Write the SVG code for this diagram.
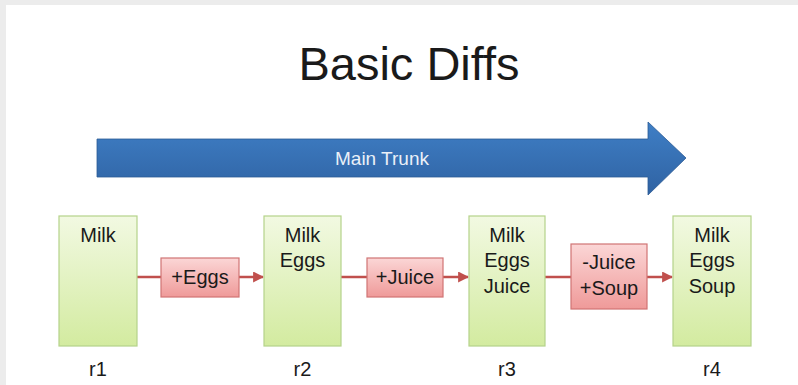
<svg xmlns="http://www.w3.org/2000/svg" width="798" height="385" viewBox="0 0 798 385">
<defs>
<linearGradient id="gGreen" x1="0" y1="0" x2="0" y2="1">
<stop offset="0" stop-color="#f2f9e2"/>
<stop offset="1" stop-color="#d3eba0"/>
</linearGradient>
<linearGradient id="gPink" x1="0" y1="0" x2="0" y2="1">
<stop offset="0" stop-color="#fbd6d6"/>
<stop offset="1" stop-color="#ef9a99"/>
</linearGradient>
<linearGradient id="gBlue" x1="0" y1="0" x2="0" y2="1">
<stop offset="0" stop-color="#3f7fc6"/>
<stop offset="1" stop-color="#2f62a2"/>
</linearGradient>
<marker id="ah" viewBox="0 0 10 10" refX="9" refY="5" markerWidth="4.4" markerHeight="4.4" orient="auto" markerUnits="strokeWidth">
<path d="M0,0 L10,5 L0,10 z" fill="#c0504d"/>
</marker>
<style>
.t{font-family:"Liberation Sans",Arial,sans-serif;fill:#1a1a1a;text-anchor:middle}
.lbl{font-size:20px}
.rev{fill:url(#gGreen);stroke:#b5d38a;stroke-width:1.2}
.chg{fill:url(#gPink);stroke:#d07474;stroke-width:1.2}
.con{stroke:#c0504d;stroke-width:2.5;fill:none}
</style>
</defs>
<rect x="0" y="0" width="798" height="385" fill="#ececec"/>
<rect x="6" y="5" width="792" height="380" fill="#ffffff"/>
<text class="t" x="409" y="80" font-size="47">Basic Diffs</text>
<g id="trunk">
<path d="M97,139 L648,139 L648,122 L686,158 L648,195 L648,177 L97,177 Z" fill="url(#gBlue)" stroke="#2c5a94" stroke-width="0.8"/>
<text x="382" y="165" font-family="Liberation Sans,Arial,sans-serif" font-size="19" fill="#eaf0f8" text-anchor="middle">Main Trunk</text>
</g>
<g id="connectors">
<line class="con" x1="137" y1="277" x2="161" y2="277"/>
<line class="con" x1="239" y1="277" x2="263" y2="277" marker-end="url(#ah)"/>
<line class="con" x1="341" y1="277" x2="367" y2="277"/>
<line class="con" x1="443" y1="277" x2="468" y2="277" marker-end="url(#ah)"/>
<line class="con" x1="545" y1="277" x2="571" y2="277"/>
<line class="con" x1="647" y1="277" x2="672" y2="277" marker-end="url(#ah)"/>
</g>
<g id="r1">
<rect class="rev" x="59" y="216" width="78" height="130"/>
<text class="t lbl" x="98" y="242">Milk</text>
<text class="t lbl" x="98" y="376">r1</text>
</g>
<g id="r2">
<rect class="rev" x="264" y="216" width="77" height="130"/>
<text class="t lbl" x="302.5" y="242">Milk</text>
<text class="t lbl" x="302.5" y="267">Eggs</text>
<text class="t lbl" x="302.5" y="376">r2</text>
</g>
<g id="r3">
<rect class="rev" x="469" y="216" width="76" height="130"/>
<text class="t lbl" x="507" y="242">Milk</text>
<text class="t lbl" x="507" y="267">Eggs</text>
<text class="t lbl" x="507" y="293">Juice</text>
<text class="t lbl" x="507" y="376">r3</text>
</g>
<g id="r4">
<rect class="rev" x="673" y="216" width="78" height="130"/>
<text class="t lbl" x="712" y="242">Milk</text>
<text class="t lbl" x="712" y="267">Eggs</text>
<text class="t lbl" x="712" y="293">Soup</text>
<text class="t lbl" x="712" y="376">r4</text>
</g>
<g id="d1">
<rect class="chg" x="161" y="258" width="78" height="39"/>
<text class="t lbl" x="200" y="284">+Eggs</text>
</g>
<g id="d2">
<rect class="chg" x="367" y="258" width="76" height="39"/>
<text class="t lbl" x="405" y="284">+Juice</text>
</g>
<g id="d3">
<rect class="chg" x="571" y="244" width="76" height="65"/>
<text class="t lbl" x="609" y="269">-Juice</text>
<text class="t lbl" x="609" y="295">+Soup</text>
</g>
</svg>
